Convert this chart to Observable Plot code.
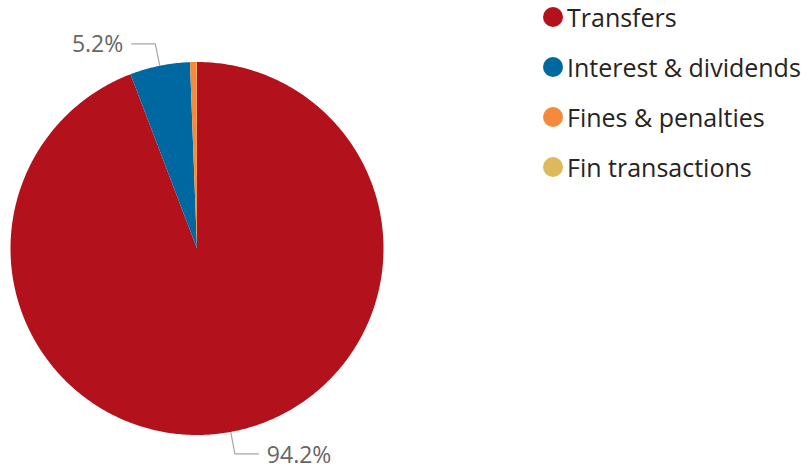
<!DOCTYPE html>
<html>
<head>
<meta charset="utf-8">
<script src="https://cdn.jsdelivr.net/npm/d3@7"></script>
<script src="https://cdn.jsdelivr.net/npm/@observablehq/plot@0.6"></script>
<style>
  html, body { margin: 0; padding: 0; background: #fff; }
  #wrap { position: relative; width: 811px; height: 472px; }
  #legend { position: absolute; left: 543px; top: 2px; font-family: "Open Sans", sans-serif; font-size: 25px; line-height: 28px; color: #252423; }
  .item { position: absolute; left: 0; white-space: nowrap; display: flex; align-items: center; height: 30px; }
  .sw { width: 20px; height: 20px; border-radius: 50%; margin-right: 4px; flex: none; }
</style>
</head>
<body>
<div id="wrap"><div id="legend"></div></div>
<script>
const categories = ["Transfers", "Interest & dividends", "Fines & penalties", "Fin transactions"];
const shares = [94.2, 5.2, 0.58, 0.02];
const colors = ["#B3121D", "#0068A0", "#F68A3C", "#DDB95C"];
const labelText = ["94.2%", "5.2%", "", ""];

const data = categories.map((c, i) => ({cat: c, value: shares[i], label: labelText[i]}));
const arcs = d3.pie().sort(null).value(d => d.value)(data);

// polygon points of each slice (angles clockwise from 12 o'clock)
const pts = [];
arcs.forEach(a => {
  const n = Math.max(2, Math.ceil((a.endAngle - a.startAngle) / 0.01));
  pts.push({cat: a.data.cat, x: 0, y: 0});
  for (let k = 0; k <= n; k++) {
    const t = a.startAngle + (a.endAngle - a.startAngle) * k / n;
    pts.push({cat: a.data.cat, x: Math.sin(t), y: Math.cos(t)});
  }
  pts.push({cat: a.data.cat, x: 0, y: 0});
});

// leader lines and label anchors
const lead = [];
const labs = [];
const unitPx = 186.5;
arcs.filter(a => a.data.label).forEach(a => {
  const m = (a.startAngle + a.endAngle) / 2;
  const side = Math.sin(m) >= 0 ? 1 : -1;
  const e = {x: 1.12 * Math.sin(m), y: 1.12 * Math.cos(m)};
  const endX = e.x + side * 24 / unitPx;
  lead.push({id: a.data.cat, x: Math.sin(m), y: Math.cos(m)});
  lead.push({id: a.data.cat, x: e.x, y: e.y});
  lead.push({id: a.data.cat, x: endX, y: e.y});
  labs.push({label: a.data.label, x: endX, y: e.y, side});
});

const chart = Plot.plot({
  width: 811,
  height: 472,
  margin: 0,
  x: {domain: [-1, 1], range: [10, 383], axis: null},
  y: {domain: [-1, 1], range: [434.5, 61.5], axis: null},
  color: {domain: categories, range: colors},
  style: {fontFamily: "'Open Sans', sans-serif", background: "#fff"},
  marks: [
    Plot.line(pts, {x: "x", y: "y", z: "cat", fill: "cat", stroke: "none", curve: "linear"}),
    Plot.line(lead, {x: "x", y: "y", z: "id", stroke: "#a6a6a6", strokeWidth: 1.2, strokeLinecap: "butt", strokeLinejoin: "miter"}),
    Plot.text(labs.filter(d => d.side < 0), {x: "x", y: "y", text: "label", textAnchor: "end", dx: -8, dy: 1, fontSize: 23, fill: "#666666"}),
    Plot.text(labs.filter(d => d.side > 0), {x: "x", y: "y", text: "label", textAnchor: "start", dx: 8, dy: 2, fontSize: 23, fill: "#666666"})
  ]
});
const wrap = document.getElementById("wrap");
wrap.insertBefore(chart, wrap.firstChild);

const legend = document.getElementById("legend");
categories.forEach((c, i) => {
  const it = document.createElement("div");
  it.className = "item";
  it.style.top = (0 + i * 50) + "px";
  const sw = document.createElement("span");
  sw.className = "sw";
  sw.style.background = colors[i];
  const tx = document.createElement("span");
  tx.textContent = c;
  it.appendChild(sw);
  it.appendChild(tx);
  legend.appendChild(it);
});
</script>
</body>
</html>
